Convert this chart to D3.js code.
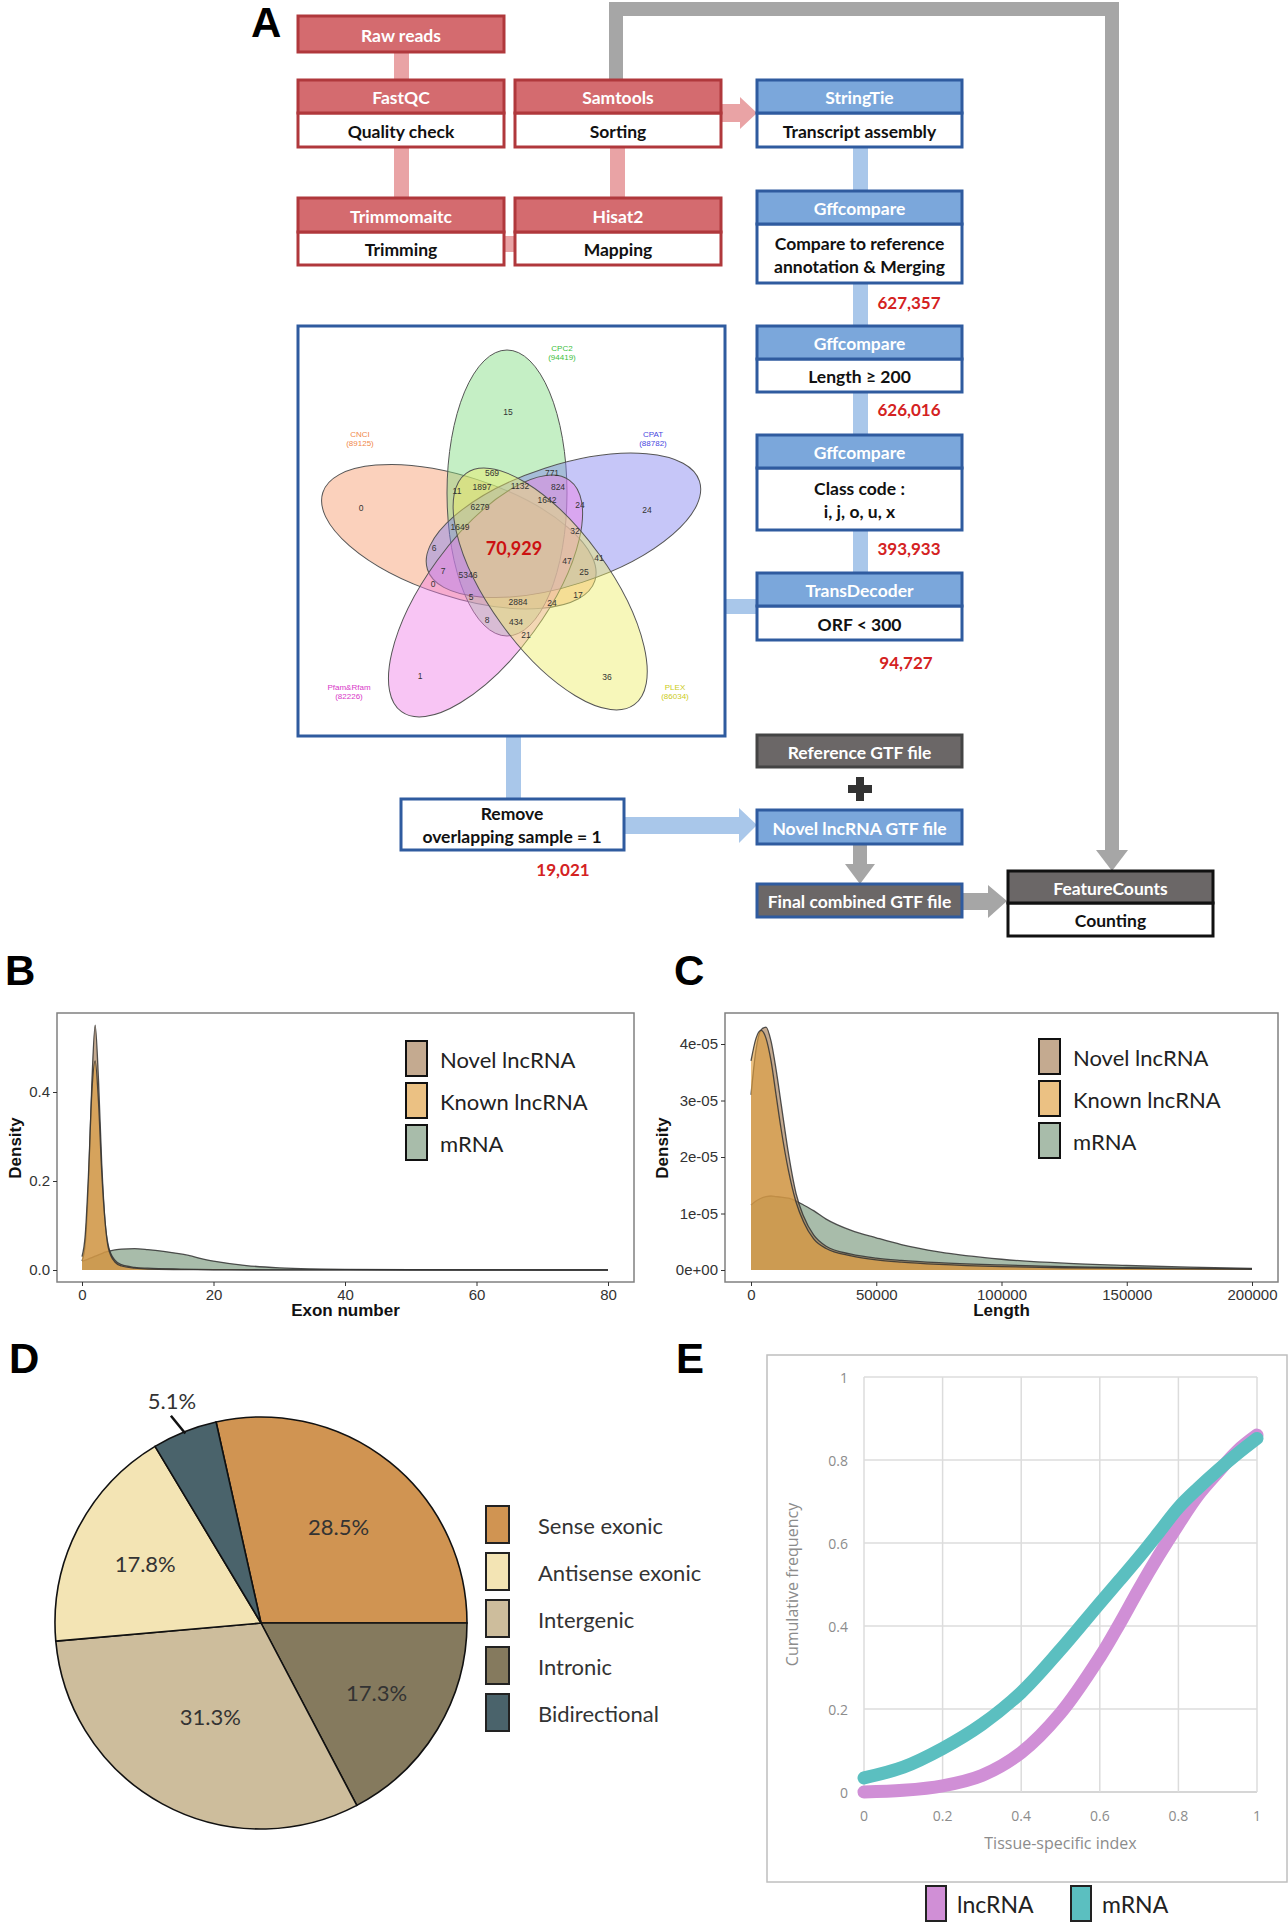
<!DOCTYPE html>
<html><head><meta charset="utf-8">
<script src="https://cdn.jsdelivr.net/npm/d3@7"></script>
<style>body{margin:0;background:#fff}</style>
</head><body>
<svg id="fig" width="1288" height="1931" xmlns="http://www.w3.org/2000/svg"></svg>
<script>
// ================= DATA =================
const flowCounts = ["627,357", "626,016", "393,933", "94,727", "19,021"];

const vennSets = ["CNCI", "CPC2", "CPAT", "Pfam&Rfam", "PLEX"];
const vennSetSizes = [89125, 94419, 88782, 82226, 86034];
const vennRegionCounts = [15, 0, 24, 1, 36, 569, 771, 11, 1897, 1132, 824, 6279, 1642, 24, 1649, 32, 6, 47, 41, 7, 5346, 25, 0, 5, 2884, 24, 17, 8, 434, 21];
const vennCore = "70,929";

const exonSeries = ["Novel lncRNA", "Known lncRNA", "mRNA"];
const exonX     = [0, 0.5, 1, 1.5, 2, 2.5, 3, 3.5, 4, 5, 6, 8, 10, 15, 20, 25, 30, 40, 60, 80];
const exonNovel = [0.02, 0.06, 0.2, 0.42, 0.55, 0.43, 0.24, 0.11, 0.055, 0.022, 0.012, 0.006, 0.004, 0.002, 0.001, 0.0006, 0.0004, 0.0002, 0.0001, 0];
const exonKnown = [0.03, 0.08, 0.22, 0.40, 0.47, 0.38, 0.22, 0.11, 0.05, 0.018, 0.009, 0.004, 0.002, 0.001, 0.0005, 0.0003, 0.0002, 0.0001, 0, 0];
const exonMRNA  = [0.02, 0.022, 0.025, 0.028, 0.031, 0.034, 0.037, 0.04, 0.042, 0.045, 0.047, 0.048, 0.046, 0.036, 0.02, 0.01, 0.005, 0.0015, 0.0003, 0.0001];

const lenX     = [0, 2000, 4000, 6000, 8000, 10000, 12000, 15000, 18000, 21000, 25000, 30000, 40000, 50000, 60000, 75000, 100000, 125000, 150000, 175000, 200000];
const lenNovel = [3.1e-5, 3.9e-5, 4.25e-5, 4.3e-5, 4.05e-5, 3.55e-5, 2.95e-5, 2.05e-5, 1.35e-5, 0.95e-5, 0.62e-5, 0.42e-5, 0.28e-5, 0.21e-5, 0.17e-5, 0.13e-5, 0.09e-5, 0.06e-5, 0.04e-5, 0.03e-5, 0.02e-5];
const lenKnown = [3.7e-5, 4.1e-5, 4.24e-5, 4.1e-5, 3.7e-5, 3.1e-5, 2.5e-5, 1.75e-5, 1.2e-5, 0.85e-5, 0.55e-5, 0.38e-5, 0.25e-5, 0.18e-5, 0.14e-5, 0.1e-5, 0.06e-5, 0.04e-5, 0.03e-5, 0.02e-5, 0.01e-5];
const lenMRNA  = [1.15e-5, 1.22e-5, 1.27e-5, 1.3e-5, 1.31e-5, 1.3e-5, 1.29e-5, 1.27e-5, 1.22e-5, 1.15e-5, 1.05e-5, 0.9e-5, 0.7e-5, 0.57e-5, 0.45e-5, 0.32e-5, 0.19e-5, 0.12e-5, 0.08e-5, 0.05e-5, 0.03e-5];

const exonTicksX = [0, 20, 40, 60, 80];
const exonTicksY = [0, 0.2, 0.4];
const lenTicksX = [0, 50000, 100000, 150000, 200000];
const lenTicksY = [0, 1e-5, 2e-5, 3e-5, 4e-5];

const pieCategories = ["Sense exonic", "Intronic", "Intergenic", "Antisense exonic", "Bidirectional"];
const pieValues = [28.5, 17.3, 31.3, 17.8, 5.1];
const legendOrderD = ["Sense exonic", "Antisense exonic", "Intergenic", "Intronic", "Bidirectional"];

const tsiSeries = ["lncRNA", "mRNA"];
const tsiX    = [0, 0.1, 0.2, 0.3, 0.4, 0.5, 0.6, 0.65, 0.7, 0.75, 0.8, 0.85, 0.9, 0.95, 1];
const tsiLnc  = [0.0, 0.004, 0.015, 0.04, 0.095, 0.19, 0.325, 0.405, 0.49, 0.57, 0.645, 0.715, 0.77, 0.822, 0.86];
const tsiMRNA = [0.034, 0.06, 0.105, 0.163, 0.24, 0.343, 0.455, 0.51, 0.566, 0.625, 0.685, 0.732, 0.775, 0.815, 0.852];
const tsiTicks = [0, 0.2, 0.4, 0.6, 0.8, 1];

// ================= STYLES / LAYOUT =================
const svg = d3.select("#fig");
const FL = "Lato, 'Open Sans', sans-serif";
const FA = "'Liberation Sans', Arial, sans-serif";
const TH = {
  red:  {fill: "#d46b6f", stroke: "#b0383c"},
  blue: {fill: "#7ba7db", stroke: "#2f5b9f"},
  dark: {fill: "#6b6767", stroke: "#262626"}
};
const linkRed = "#e9a3a5", linkBlue = "#a9c7ea", linkGray = "#a6a6a6";

function panelLabel(t, x, y) {
  svg.append("text").attr("x", x).attr("y", y).text(t)
    .attr("font-family", FA).attr("font-weight", "bold").attr("font-size", 42).attr("fill", "#000");
}
panelLabel("A", 251, 37);
panelLabel("B", 5, 985);
panelLabel("C", 674, 985);
panelLabel("D", 9, 1373);
panelLabel("E", 676, 1373);

// ---------- connectors (under boxes) ----------
const gL = svg.append("g");
function rect(g, x, y, w, h, fill) { g.append("rect").attr("x", x).attr("y", y).attr("width", w).attr("height", h).attr("fill", fill); }
function tri(g, pts, fill) { g.append("polygon").attr("points", pts.map(p => p.join(",")).join(" ")).attr("fill", fill); }
rect(gL, 394, 50, 15, 32, linkRed);
rect(gL, 394, 145, 15, 55, linkRed);
rect(gL, 610, 145, 15, 55, linkRed);
rect(gL, 502, 236, 15, 16, linkRed);
rect(gL, 719, 104, 22, 18, linkRed);
tri(gL, [[740, 97], [740, 129], [757, 113]], linkRed);
rect(gL, 853, 145, 15, 48, linkBlue);
rect(gL, 853, 281, 15, 47, linkBlue);
rect(gL, 853, 390, 15, 47, linkBlue);
rect(gL, 853, 528, 15, 47, linkBlue);
rect(gL, 723, 599, 36, 15, linkBlue);
rect(gL, 506, 734, 15, 67, linkBlue);
rect(gL, 622, 817, 118, 17, linkBlue);
tri(gL, [[739, 808], [739, 843], [757, 825]], linkBlue);
gL.append("path").attr("d", "M616,82 L616,9 L1112,9 L1112,852").attr("fill", "none")
  .attr("stroke", linkGray).attr("stroke-width", 14).attr("stroke-linejoin", "miter");
tri(gL, [[1096, 850], [1128, 850], [1112, 871]], linkGray);
rect(gL, 853, 843, 14, 22, linkGray);
tri(gL, [[845, 864], [875, 864], [860, 884]], linkGray);
rect(gL, 961, 893, 28, 17, linkGray);
tri(gL, [[988, 885], [988, 918], [1007, 901]], linkGray);
rect(gL, 856, 777, 8, 24, "#333");
rect(gL, 848, 785, 24, 8, "#333");

// ---------- boxes ----------
const boxes = [
  {x: 298, y: 16, w: 206, hh: 36, hb: 0, head: "Raw reads", th: "red"},
  {x: 298, y: 80, w: 206, hh: 33, hb: 34, head: "FastQC", body: ["Quality check"], th: "red"},
  {x: 515, y: 80, w: 206, hh: 33, hb: 34, head: "Samtools", body: ["Sorting"], th: "red"},
  {x: 298, y: 198, w: 206, hh: 34, hb: 33, head: "Trimmomaitc", body: ["Trimming"], th: "red"},
  {x: 515, y: 198, w: 206, hh: 34, hb: 33, head: "Hisat2", body: ["Mapping"], th: "red"},
  {x: 757, y: 80, w: 205, hh: 33, hb: 34, head: "StringTie", body: ["Transcript assembly"], th: "blue"},
  {x: 757, y: 191, w: 205, hh: 33, hb: 59, head: "Gffcompare", body: ["Compare to reference", "annotation & Merging"], th: "blue"},
  {x: 757, y: 326, w: 205, hh: 33, hb: 33, head: "Gffcompare", body: ["Length \u2265 200"], th: "blue"},
  {x: 757, y: 435, w: 205, hh: 33, hb: 62, head: "Gffcompare", body: ["Class code :", "i, j, o, u, x"], th: "blue"},
  {x: 757, y: 573, w: 205, hh: 33, hb: 34, head: "TransDecoder", body: ["ORF < 300"], th: "blue"},
  {x: 757, y: 735, w: 205, hh: 32, hb: 0, head: "Reference GTF file", th: "dark", sc: "#444"},
  {x: 757, y: 810, w: 205, hh: 34, hb: 0, head: "Novel lncRNA GTF file", th: "blue"},
  {x: 757, y: 884, w: 205, hh: 33, hb: 0, head: "Final combined GTF file", th: "dark", sc: "#2f5b9f"},
  {x: 1008, y: 871, w: 205, hh: 32, hb: 33, head: "FeatureCounts", body: ["Counting"], th: "dark", sc: "#111"}
];
const gB = svg.append("g");
boxes.forEach(b => {
  const t = TH[b.th], sc = b.sc || t.stroke;
  if (b.hb > 0) {
    gB.append("rect").attr("x", b.x).attr("y", b.y + b.hh).attr("width", b.w).attr("height", b.hb)
      .attr("fill", "#fff").attr("stroke", sc).attr("stroke-width", 3);
  }
  gB.append("rect").attr("x", b.x).attr("y", b.y).attr("width", b.w).attr("height", b.hh)
    .attr("fill", t.fill).attr("stroke", sc).attr("stroke-width", 3);
  gB.append("text").attr("x", b.x + b.w / 2).attr("y", b.y + b.hh / 2 + 1).text(b.head)
    .attr("text-anchor", "middle").attr("dominant-baseline", "central")
    .attr("font-family", FL).attr("font-weight", "bold").attr("font-size", 17.5).attr("fill", "#fff");
  if (b.body) {
    const cy = b.y + b.hh + b.hb / 2, n = b.body.length, lh = 23;
    b.body.forEach((s, i) => {
      gB.append("text").attr("x", b.x + b.w / 2).attr("y", cy + (i - (n - 1) / 2) * lh + 1).text(s)
        .attr("text-anchor", "middle").attr("dominant-baseline", "central")
        .attr("font-family", FL).attr("font-weight", "bold").attr("font-size", 17.5).attr("fill", "#111");
    });
  }
});
gB.append("rect").attr("x", 401).attr("y", 799).attr("width", 223).attr("height", 51)
  .attr("fill", "#fff").attr("stroke", "#2f5b9f").attr("stroke-width", 3);
["Remove", "overlapping sample = 1"].forEach((s, i) => {
  gB.append("text").attr("x", 512).attr("y", 813 + i * 23).text(s)
    .attr("text-anchor", "middle").attr("dominant-baseline", "central")
    .attr("font-family", FL).attr("font-weight", "bold").attr("font-size", 17.5).attr("fill", "#111");
});
const flowCountPos = [[909, 302], [909, 409], [909, 548], [906, 662], [563, 869]];
flowCounts.forEach((c, i) => {
  gB.append("text").attr("x", flowCountPos[i][0]).attr("y", flowCountPos[i][1]).text(c)
    .attr("text-anchor", "middle").attr("dominant-baseline", "central")
    .attr("font-family", FL).attr("font-weight", "bold").attr("font-size", 17).attr("fill", "#d42222");
});

// ---------- Venn ----------
const gV = svg.append("g");
gV.append("rect").attr("x", 298).attr("y", 326).attr("width", 427).attr("height", 410)
  .attr("fill", "#fff").attr("stroke", "#2f5b9f").attr("stroke-width", 3);
const VC = [513, 548];
const vennRot = [4, 0, 1, 3, 2];
const vennFill = ["#f79a6a", "#7fdc7f", "#8080f0", "#f07ee6", "#eeee66"];
const vennText = ["#f0884a", "#3cc03c", "#4848e0", "#d838c8", "#cccc20"];
vennSets.forEach((s, i) => {
  gV.append("ellipse").attr("cx", VC[0] - 6).attr("cy", VC[1] - 55).attr("rx", 60).attr("ry", 143)
    .attr("transform", `rotate(${72 * vennRot[i]},${VC[0]},${VC[1]})`)
    .attr("fill", vennFill[i]).attr("fill-opacity", 0.45).attr("stroke", "#555").attr("stroke-width", 1);
});
const vennLabelPos = [[360, 437], [562, 351], [653, 437], [349, 690], [675, 690]];
vennSets.forEach((s, i) => {
  [s, `(${vennSetSizes[i]})`].forEach((t, j) => {
    gV.append("text").attr("x", vennLabelPos[i][0]).attr("y", vennLabelPos[i][1] + j * 9).text(t)
      .attr("text-anchor", "middle").attr("font-family", FA).attr("font-size", 8).attr("fill", vennText[i]);
  });
});
const vennRegionPos = [[508, 412], [361, 508], [647, 510], [420, 676], [607, 677], [492, 473], [552, 473], [457, 491], [482, 487], [520, 486], [558, 487], [480, 507], [547, 500], [580, 505], [460, 527], [575, 531], [434, 548], [567, 561], [599, 558], [443, 571], [468, 575], [584, 572], [433, 584], [471, 597], [518, 602], [552, 603], [578, 595], [487, 620], [516, 622], [526, 635]];
vennRegionCounts.forEach((c, i) => {
  gV.append("text").attr("x", vennRegionPos[i][0]).attr("y", vennRegionPos[i][1]).text(c)
    .attr("text-anchor", "middle").attr("dominant-baseline", "central")
    .attr("font-family", FA).attr("font-size", 8.5).attr("fill", "#333");
});
gV.append("text").attr("x", 514).attr("y", 548).text(vennCore)
  .attr("text-anchor", "middle").attr("dominant-baseline", "central")
  .attr("font-family", FL).attr("font-weight", "bold").attr("font-size", 18).attr("fill", "#cc1111");

// ---------- density panels ----------
const densFill = ["#a47c55", "#e0a040", "#6e8f72"];
const densOp = [0.65, 0.65, 0.6];
function densityPanel(o) {
  const g = svg.append("g");
  const x = d3.scaleLinear().domain(o.xd).range(o.xr);
  const y = d3.scaleLinear().domain(o.yd).range(o.yr);
  g.append("rect").attr("x", o.box[0]).attr("y", o.box[1]).attr("width", o.box[2]).attr("height", o.box[3])
    .attr("fill", "#fff").attr("stroke", "#808080").attr("stroke-width", 1.5);
  [2, 0, 1].forEach(k => {
    const pts = o.xs.map((v, i) => [v, o.ys[k][i]]);
    const area = d3.area().x(d => x(d[0])).y0(y(0)).y1(d => y(d[1])).curve(d3.curveMonotoneX);
    const line = d3.line().x(d => x(d[0])).y(d => y(d[1])).curve(d3.curveMonotoneX);
    g.append("path").attr("d", area(pts)).attr("fill", densFill[k]).attr("fill-opacity", densOp[k]);
    g.append("path").attr("d", line(pts)).attr("fill", "none").attr("stroke", "#333").attr("stroke-opacity", 0.85).attr("stroke-width", 1.3);
  });
  const bottom = o.box[1] + o.box[3];
  const ax = g.append("g").attr("transform", `translate(0,${bottom})`)
    .call(d3.axisBottom(x).tickValues(o.xt).tickSize(4).tickPadding(3).tickFormat(o.xf));
  const ay = g.append("g").attr("transform", `translate(${o.box[0]},0)`)
    .call(d3.axisLeft(y).tickValues(o.yt).tickSize(4).tickPadding(3).tickFormat(o.yf));
  [ax, ay].forEach(a => {
    a.select(".domain").remove();
    a.selectAll("line").attr("stroke", "#333");
    a.selectAll("text").attr("font-family", FA).attr("font-size", 15).attr("fill", "#333");
  });
  g.append("text").attr("x", o.box[0] + o.box[2] / 2).attr("y", 1316).text(o.xlab)
    .attr("text-anchor", "middle").attr("font-family", FA).attr("font-weight", "bold").attr("font-size", 17).attr("fill", "#111");
  g.append("text").attr("transform", `translate(${o.ylabX},1148) rotate(-90)`).text("Density")
    .attr("text-anchor", "middle").attr("font-family", FA).attr("font-weight", "bold").attr("font-size", 17).attr("fill", "#111");
  exonSeries.forEach((s, k) => {
    const ky = o.leg[1] + k * 42;
    g.append("rect").attr("x", o.leg[0]).attr("y", ky).attr("width", 21).attr("height", 35).attr("fill", "#fff");
    g.append("rect").attr("x", o.leg[0]).attr("y", ky).attr("width", 21).attr("height", 35)
      .attr("fill", densFill[k]).attr("fill-opacity", densOp[k]).attr("stroke", "#111").attr("stroke-width", 2);
    g.append("text").attr("x", o.leg[0] + 34).attr("y", ky + 18).text(s).attr("dominant-baseline", "central")
      .attr("font-family", FL).attr("font-size", 22).attr("fill", "#222");
  });
}
densityPanel({
  xd: [0, 80], xr: [82, 608], yd: [0, 0.4], yr: [1270, 1092],
  box: [57, 1013, 577, 269], xs: exonX, ys: [exonNovel, exonKnown, exonMRNA],
  xt: exonTicksX, yt: exonTicksY, xf: d3.format("d"), yf: d3.format(".1f"),
  xlab: "Exon number", ylabX: 21, leg: [406, 1041]
});
densityPanel({
  xd: [0, 200000], xr: [751, 1252], yd: [0, 4e-5], yr: [1270, 1044],
  box: [725, 1013, 553, 269], xs: lenX, ys: [lenNovel, lenKnown, lenMRNA],
  xt: lenTicksX, yt: lenTicksY, xf: d => String(d), yf: d => `${Math.round(d * 1e5)}e${d === 0 ? "+00" : "-05"}`,
  xlab: "Length", ylabX: 668, leg: [1039, 1039]
});

// ---------- Pie (D) ----------
const pieColor = d3.scaleOrdinal().domain(legendOrderD).range(["#d09452", "#f3e4b4", "#cdbd9c", "#857a5e", "#4a636b"]);
const gP = svg.append("g").attr("transform", "translate(261,1623)");
const a0 = -12.6 * Math.PI / 180;
const pie = d3.pie().sort(null).startAngle(a0).endAngle(a0 + 2 * Math.PI);
const arcs = pie(pieValues);
const arc = d3.arc().innerRadius(0).outerRadius(206);
gP.selectAll("path.sl").data(arcs).enter().append("path")
  .attr("d", arc).attr("fill", (d, i) => pieColor(pieCategories[i])).attr("stroke", "#111").attr("stroke-width", 1.6);
const pieLabelR = [124, 135, 106, 130, 240];
arcs.forEach((d, i) => {
  const m = (d.startAngle + d.endAngle) / 2, r = pieLabelR[i];
  gP.append("text").attr("x", r * Math.sin(m)).attr("y", -r * Math.cos(m)).text(pieValues[i].toFixed(1) + "%")
    .attr("text-anchor", "middle").attr("dominant-baseline", "central")
    .attr("font-family", FL).attr("font-size", 22).attr("fill", "#333");
  if (i === 4) {
    gP.append("line").attr("x1", 204 * Math.sin(m)).attr("y1", -204 * Math.cos(m))
      .attr("x2", 226 * Math.sin(m - 0.03)).attr("y2", -226 * Math.cos(m - 0.03)).attr("stroke", "#111").attr("stroke-width", 2.5);
  }
});
legendOrderD.forEach((c, i) => {
  const y = 1506 + i * 47;
  svg.append("rect").attr("x", 486).attr("y", y).attr("width", 23).attr("height", 37)
    .attr("fill", pieColor(c)).attr("stroke", "#222").attr("stroke-width", 2);
  svg.append("text").attr("x", 538).attr("y", y + 19).text(c).attr("dominant-baseline", "central")
    .attr("font-family", FL).attr("font-size", 22).attr("fill", "#333");
});

// ---------- Cumulative (E) ----------
const gE = svg.append("g");
gE.append("rect").attr("x", 767).attr("y", 1355).attr("width", 520).attr("height", 527)
  .attr("fill", "#fff").attr("stroke", "#bfbfbf").attr("stroke-width", 1.5);
const ex = d3.scaleLinear().domain([0, 1]).range([864, 1257]);
const ey = d3.scaleLinear().domain([0, 1]).range([1792, 1377]);
tsiTicks.forEach(t => {
  gE.append("line").attr("x1", ex(t)).attr("x2", ex(t)).attr("y1", ey(0)).attr("y2", ey(1)).attr("stroke", "#dcdcdc").attr("stroke-width", 1.5);
  gE.append("line").attr("x1", ex(0)).attr("x2", ex(1)).attr("y1", ey(t)).attr("y2", ey(t)).attr("stroke", t === 0 ? "#c8c8c8" : "#dcdcdc").attr("stroke-width", 1.5);
  gE.append("text").attr("x", ex(t)).attr("y", 1815).text(String(t)).attr("text-anchor", "middle").attr("dominant-baseline", "central")
    .attr("font-family", "'Open Sans', sans-serif").attr("font-size", 14).attr("fill", "#8c8c8c");
  gE.append("text").attr("x", 848).attr("y", ey(t)).text(String(t)).attr("text-anchor", "end").attr("dominant-baseline", "central")
    .attr("font-family", "'Open Sans', sans-serif").attr("font-size", 14).attr("fill", "#8c8c8c");
});
gE.append("text").attr("x", ex(0.5)).attr("y", 1843).text("Tissue-specific index").attr("text-anchor", "middle").attr("dominant-baseline", "central")
  .attr("font-family", "'Open Sans', sans-serif").attr("font-size", 16).attr("fill", "#8c8c8c");
gE.append("text").attr("transform", `translate(792,${ey(0.5)}) rotate(-90)`).text("Cumulative frequency").attr("text-anchor", "middle").attr("dominant-baseline", "central")
  .attr("font-family", "'Open Sans', sans-serif").attr("font-size", 16).attr("fill", "#8c8c8c");
const tsiColor = ["#d08fd6", "#5bbfc0"];
const eLine = d3.line().x(d => ex(d[0])).y(d => ey(d[1])).curve(d3.curveCatmullRom.alpha(0.5));
[tsiLnc, tsiMRNA].forEach((ys, k) => {
  gE.append("path").attr("d", eLine(tsiX.map((v, i) => [v, ys[i]]))).attr("fill", "none")
    .attr("stroke", tsiColor[k]).attr("stroke-width", 13).attr("stroke-linecap", "round");
});
const legEX = [926, 1071];
tsiSeries.forEach((s, k) => {
  svg.append("rect").attr("x", legEX[k]).attr("y", 1886).attr("width", 20).attr("height", 35)
    .attr("fill", tsiColor[k]).attr("stroke", "#222").attr("stroke-width", 2);
  svg.append("text").attr("x", legEX[k] + 31).attr("y", 1904).text(s).attr("dominant-baseline", "central")
    .attr("font-family", FL).attr("font-size", 23).attr("fill", "#222");
});
</script>
</body></html>
